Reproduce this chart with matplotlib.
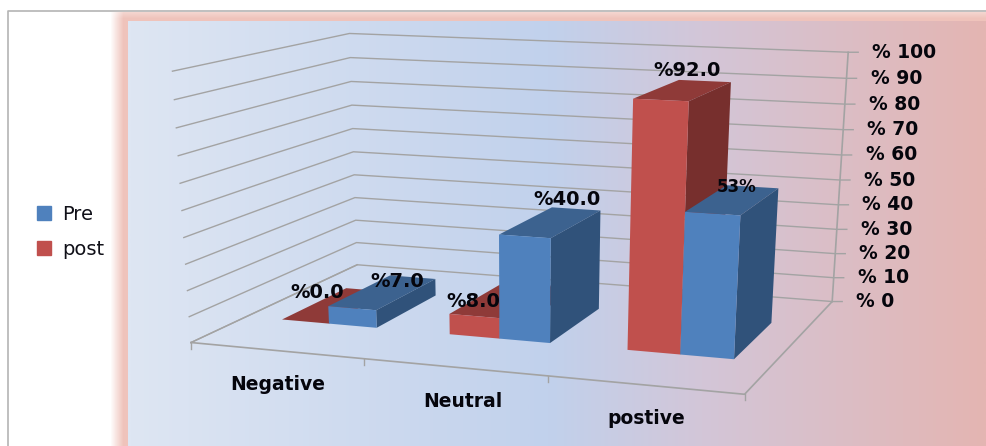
import numpy as np
import matplotlib
matplotlib.use("Agg")
import matplotlib.pyplot as plt
from matplotlib.colors import LinearSegmentedColormap
from matplotlib.patches import Patch, Polygon

# Chart data
categories = ["Negative", "Neutral", "postive"]
series_names = ["Pre", "post"]
pre_values = [7.0, 40.0, 53.0]
post_values = [0.0, 8.0, 92.0]
pre_labels = ["%7.0", "%40.0", "53%"]
post_labels = ["%0.0", "%8.0", "%92.0"]
value_ticks = [0, 10, 20, 30, 40, 50, 60, 70, 80, 90, 100]
VALUE_MAX = 100.0

# Styling
RED = {"front": "#C0504D", "side": "#772F2D", "top": "#8F3A38"}
BLUE = {"front": "#4F81BD", "side": "#30527A", "top": "#3C628F"}
GRID = "#A3A3A3"
INK = "#05050C"
GAP_WIDTH = 1.5
BAR_SHIFT = 0.001
DEPTH_RANGE = (0.30, 0.70)

W, H = 987, 446
fig = plt.figure(figsize=(W / 100, H / 100), dpi=100)
ax = fig.add_axes([0, 0, 1, 1])
ax.set_xlim(0, W)
ax.set_ylim(H, 0)
ax.axis("off")


def fit_camera():
    """Solve the 3x4 perspective matrix that places the chart box on the canvas."""
    box = [((0, 0, 0), (191, 342)), ((1, 0, 0), (745, 394)),
           ((1, 1, 0), (832, 302)), ((0, 1, 0), (357, 265)),
           ((0, 1, 1), (350, 33)), ((1, 1, 1), (848, 52)),
           ((0, 0, 1), (172, 72))]
    rows = []
    for (u, v, w), (x, y) in box:
        rows.append([u, v, w, 1, 0, 0, 0, 0, -x * u, -x * v, -x * w, -x])
        rows.append([0, 0, 0, 0, u, v, w, 1, -y * u, -y * v, -y * w, -y])
    return np.linalg.svd(np.array(rows, float))[2][-1].reshape(3, 4)


CAMERA = fit_camera()


def project(u, v, value):
    p = CAMERA @ np.array([u, v, value / VALUE_MAX, 1.0])
    return p[0] / p[2], p[1] / p[2]


# Panel gradient and its soft pink halo
panel_cmap = LinearSegmentedColormap.from_list(
    "panel", [(0, "#DEE6F3"), (0.49, "#C1D1EC"), (0.67, "#D3C6D8"), (1, "#E4B5B2")])
ax.imshow(np.linspace(0, 1, 512)[None, :], cmap=panel_cmap, aspect="auto",
          extent=(128, W, H, 21), zorder=1, interpolation="bilinear")

halo = np.zeros((H, W, 4))
halo[..., :3] = matplotlib.colors.to_rgb("#EFC3BB")
xx = np.arange(W)
yy = np.arange(H)
alpha_x = np.clip((xx - 110) / 13.0, 0, 1)
alpha_y = np.clip((yy - 11) / 7.0, 0, 1)
halo[..., 3] = np.outer(0.65 + 0.35 * alpha_y, alpha_x) * (yy[:, None] >= 12)
ax.imshow(halo, aspect="auto", extent=(0, W, H, 0), zorder=0.5)

# Outer chart border
ax.plot([8, 8, W], [H, 11, 11], color="#B4B4B4", lw=1.2, zorder=2, solid_capstyle="butt")

# Walls: gridlines, value ticks and their labels
for tick in value_ticks:
    x0, y0 = project(0, 0, tick)
    x1, y1 = project(0, 1, tick)
    x2, y2 = project(1, 1, tick)
    ax.plot([x0, x1, x2, x2 + 10], [y0, y1, y2, y2], color=GRID, lw=1.0, zorder=3)
    ax.text(x2 + 24, y2, f"% {tick}", ha="left", va="center", fontsize=13.5,
            fontweight="bold", color=INK, zorder=8)

# Floor edges and category ticks
edge = [project(0, 0, 0), project(1, 0, 0), project(1, 1, 0)]
ax.plot(*zip(*edge), color=GRID, lw=1.2, zorder=3)
ax.plot(*zip(project(0, 0, 0), project(0, 1, 0)), color=GRID, lw=1.0, zorder=3)
ax.plot(*zip(project(1, 1, 0), project(1, 1, 100)), color=GRID, lw=1.2, zorder=3)
for k in range(len(categories) + 1):
    x, y = project(k / len(categories), 0, 0)
    ax.plot([x, x], [y, y + 6], color=GRID, lw=1.0, zorder=3)
for k, name in enumerate(categories):
    x, y = project((k + 0.5) / len(categories), 0, 0)
    ax.text(x + [1, 8, 1][k], y + 34, name, ha="center", va="center", fontsize=13.5,
            fontweight="bold", color=INK, zorder=8)


def draw_bar(u0, u1, value, colors, z):
    v0, v1 = DEPTH_RANGE
    faces = [
        ("top", [(u0, v0, value), (u1, v0, value), (u1, v1, value), (u0, v1, value)]),
        ("side", [(u1, v0, 0), (u1, v1, 0), (u1, v1, value), (u1, v0, value)]),
        ("front", [(u0, v0, 0), (u1, v0, 0), (u1, v0, value), (u0, v0, value)]),
    ]
    for i, (face, corners) in enumerate(faces):
        ax.add_patch(Polygon([project(*c) for c in corners], closed=True,
                             facecolor=colors[face], edgecolor="none", zorder=z + i * 0.01))


# Bars, painted from the back-left towards the viewer
cat_width = 1 / len(categories)
bar_width = cat_width / (2 + GAP_WIDTH)
label_offsets_post = [(-21, -13), (-29, 2), (3, -20)]
label_offsets_pre = [(14, -11), (16, -23), (3, -13)]
for k in range(len(categories)):
    left = k * cat_width + (cat_width - 2 * bar_width) / 2 + BAR_SHIFT
    mid = left + bar_width
    right = mid + bar_width
    draw_bar(left, mid, post_values[k], RED, 4 + k)
    draw_bar(mid, right, pre_values[k], BLUE, 4.5 + k)
    for (u0, u1, val, text, off, size) in (
            (left, mid, post_values[k], post_labels[k], label_offsets_post[k], 14),
            (mid, right, pre_values[k], pre_labels[k], label_offsets_pre[k],
             12 if k == 2 else 14)):
        x, y = project((u0 + u1) / 2, 0.5, val)
        ax.text(x + off[0], y + off[1], text, ha="center", va="center", fontsize=size,
                fontweight="bold", color=INK, zorder=9)

# Legend
handles = [Patch(color=BLUE["front"], label=series_names[0]),
           Patch(color=RED["front"], label=series_names[1])]
ax.legend(handles=handles, loc="center left", bbox_to_anchor=(31 / W, 1 - 232 / H),
          bbox_transform=ax.transAxes, frameon=False, fontsize=14,
          handlelength=0.72, handleheight=0.72, labelspacing=0.8, handletextpad=0.6,
          borderaxespad=0, borderpad=0.3, labelcolor="#101018")

fig.savefig("out.png", dpi=100)
